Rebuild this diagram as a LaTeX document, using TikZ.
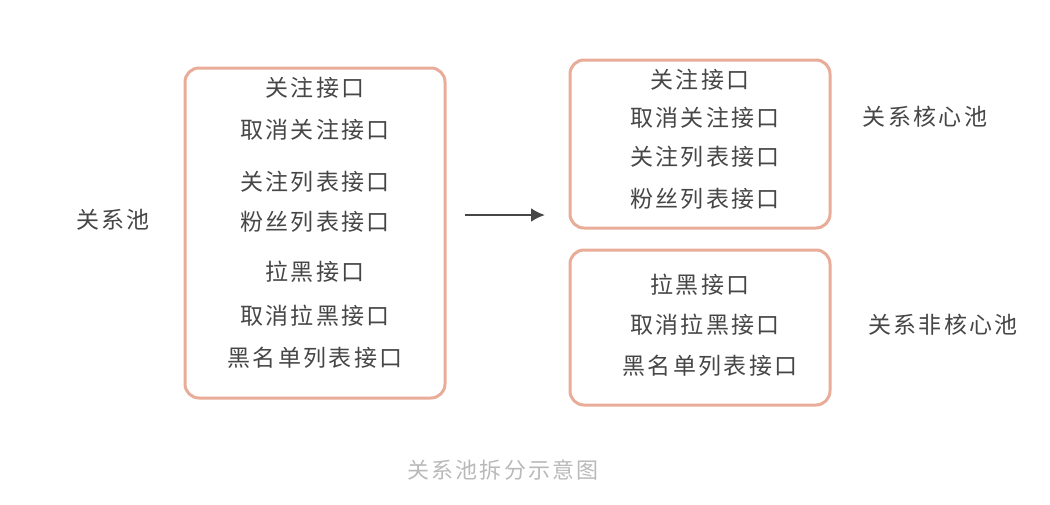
\documentclass[tikz,border=0pt]{standalone}
\usetikzlibrary{arrows.meta}
\usepackage{fontspec}
\setmainfont[LetterSpace=10]{Noto Sans CJK SC}
\begin{document}
\begin{tikzpicture}[x=1pt,y=-1pt,
  box/.style={draw=boxc,line width=3pt,rounded corners=14pt},
  t/.style={font=\fontsize{23}{26}\selectfont,text=txt,inner sep=0pt},
  lab/.style={font=\fontsize{23}{26}\selectfont,text=txt,inner sep=0pt}]
\definecolor{boxc}{RGB}{232,172,152}
\definecolor{txt}{RGB}{70,70,70}
\definecolor{cap}{RGB}{185,185,185}
\useasboundingbox (0,0) rectangle (1050,504);
\draw[box] (185,68) rectangle (445,398);
\draw[box] (570,60) rectangle (830,228);
\draw[box] (570,250) rectangle (830,405);
\node[t] (l1) at (315,88) {关注接口};
\node[t] (l2) at (315,130) {取消关注接口};
\node[t] (l3) at (315,182) {关注列表接口};
\node[t] (l4) at (315,222) {粉丝列表接口};
\node[t] (l5) at (315,272) {拉黑接口};
\node[t] (l6) at (315,316) {取消拉黑接口};
\node[t] (l7) at (315,358) {黑名单列表接口};
\node[t] (r1) at (700,80) {关注接口};
\node[t] (r2) at (705,118) {取消关注接口};
\node[t] (r3) at (705,157) {关注列表接口};
\node[t] (r4) at (705,199) {粉丝列表接口};
\node[t] (r5) at (700,285) {拉黑接口};
\node[t] (r6) at (705,325) {取消拉黑接口};
\node[t] (r7) at (710,366) {黑名单列表接口};
\node[lab] (a) at (113,220) {关系池};
\node[lab] (b) at (925,117) {关系核心池};
\node[lab] (c) at (943,325) {关系非核心池};
\node[font=\fontsize{22}{24}\selectfont,text=cap] (cp) at (503,470) {关系池拆分示意图};
\coordinate (s) at (465,215);
\coordinate (e) at (545,215);
\draw[line width=2.5pt,color=txt,-{Latex[length=14pt,width=14pt]}] (s) -- (e);
\end{tikzpicture}
\end{document}
